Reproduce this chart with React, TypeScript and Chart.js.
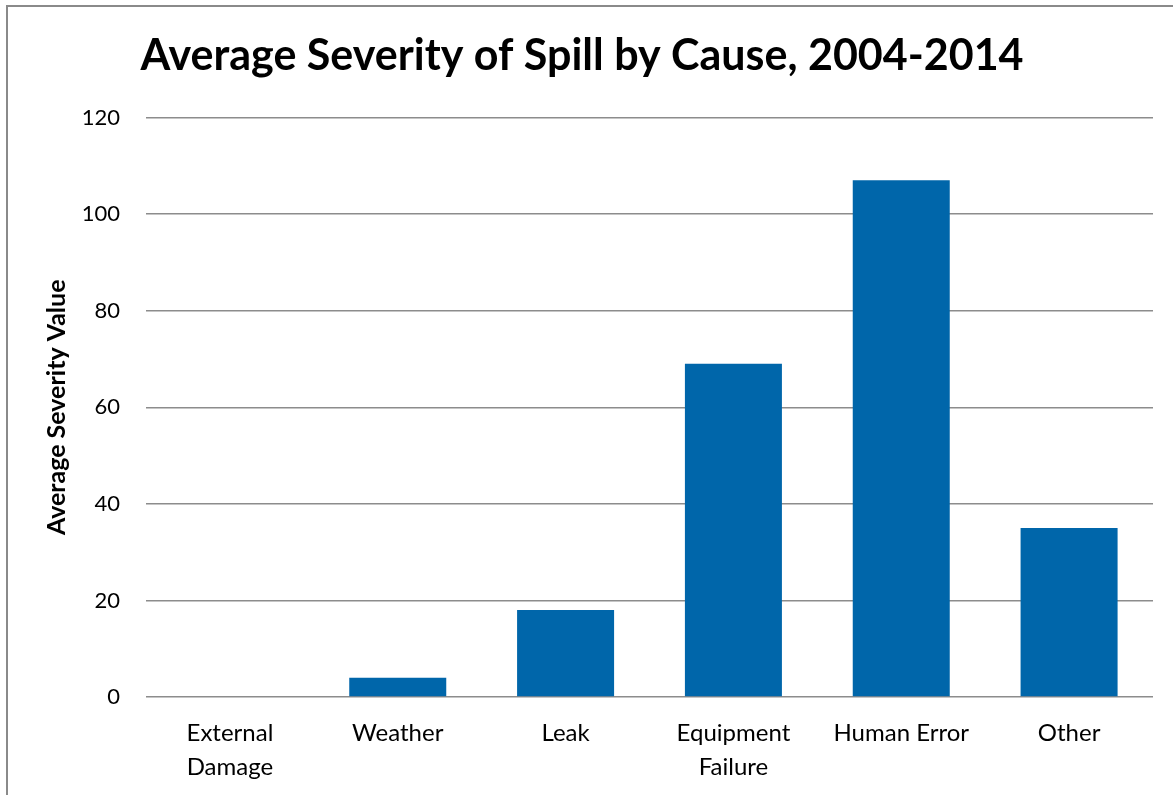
import React, { useEffect, useRef } from "react";
import { Chart, registerables } from "chart.js";

Chart.register(...registerables);

const categories: (string | string[])[] = [
  ["External", "Damage"],
  "Weather",
  "Leak",
  ["Equipment", "Failure"],
  "Human Error",
  "Other",
];
const severityValues: number[] = [0, 4, 18, 69, 107, 35];
const titleText = "Average Severity of Spill by Cause, 2004-2014";
const yAxisTitle = "Average Severity Value";
const yMin = 0;
const yMax = 120;
const yStep = 20;

const FONT = "Lato, 'Open Sans', sans-serif";
const W = 1165;
const H = 788;

export default function App() {
  const ref = useRef<HTMLCanvasElement | null>(null);

  useEffect(() => {
    if (!ref.current) return;
    const chart = new Chart(ref.current, {
      type: "bar",
      data: {
        labels: categories,
        datasets: [
          {
            label: "Average Severity",
            data: severityValues,
            backgroundColor: "#0066AA",
            borderWidth: 0,
            barPercentage: 0.578,
            categoryPercentage: 1,
          },
        ],
      },
      options: {
        responsive: false,
        animation: false,
        devicePixelRatio: 1,
        layout: { padding: { left: 3, right: 20, top: 0, bottom: 0 } },
        plugins: {
          legend: { display: false },
          tooltip: { enabled: false },
          title: {
            display: true,
            text: titleText,
            color: "#000",
            font: { family: FONT, size: 43, weight: "bold", lineHeight: 1.2 },
            padding: { top: 23, bottom: 36 },
          },
        },
        scales: {
          x: {
            grid: { display: false, drawTicks: false },
            border: { display: false },
            afterFit: (scale: any) => {
              scale.height = 98;
            },
            ticks: {
              color: "#000",
              padding: 19,
              maxRotation: 0,
              autoSkip: false,
              font: { family: FONT, size: 24, lineHeight: 1.42 },
            },
          },
          y: {
            min: yMin,
            max: yMax,
            grid: { color: "#8c8c8c", lineWidth: 1.5, drawTicks: false },
            border: { display: false },
            afterFit: (scale: any) => {
              scale.width = 135;
            },
            ticks: {
              stepSize: yStep,
              color: "#000",
              padding: 26,
              font: { family: FONT, size: 22 },
            },
            title: {
              display: true,
              text: yAxisTitle,
              color: "#000",
              font: { family: FONT, size: 25, weight: "bold", lineHeight: 1.2 },
              padding: { top: 31, bottom: 0 },
            },
          },
        },
      },
    });
    return () => chart.destroy();
  }, []);

  return (
    <div
      style={{
        position: "fixed",
        left: 0,
        top: 0,
        width: 1173,
        height: 795,
        overflow: "hidden",
        background: "#fff",
      }}
    >
      <div
        style={{
          position: "absolute",
          left: 6,
          top: 5,
          width: 3000,
          height: 3000,
          borderLeft: "2px solid #8a8a8a",
          borderTop: "2px solid #8a8a8a",
        }}
      />
      <canvas
        ref={ref}
        width={W}
        height={H}
        style={{ position: "absolute", left: 8, top: 7, width: W, height: H }}
      />
    </div>
  );
}
